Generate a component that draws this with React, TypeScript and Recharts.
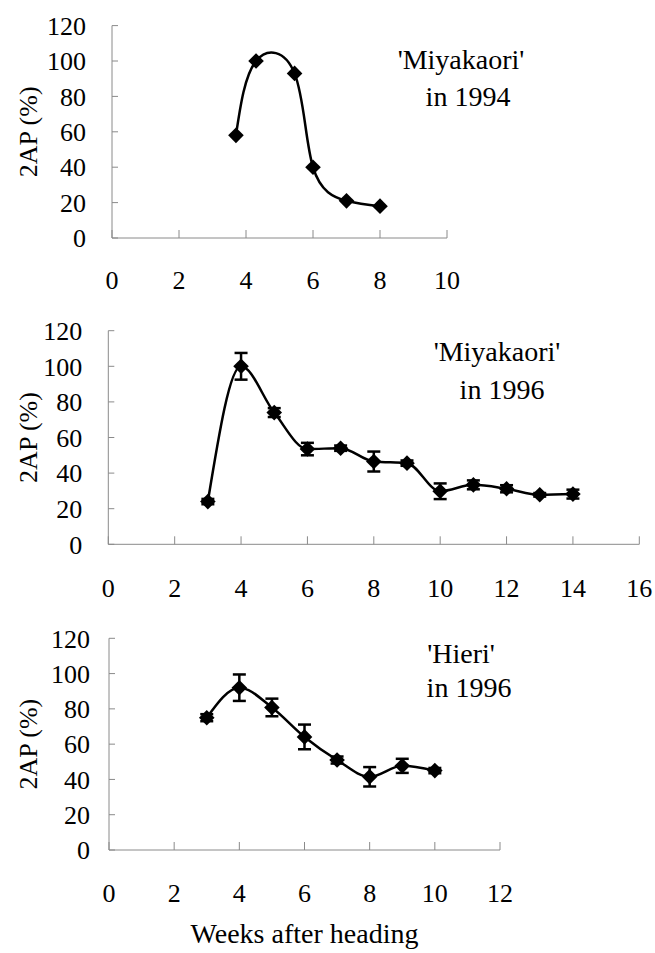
import { LineChart, Line, XAxis, YAxis, ErrorBar } from "recharts";

// 'Miyakaori' 1994
const weeks94 = [3.7, 4.3, 5.45, 6, 7, 8];
const ap94 = [58, 100, 93, 40, 21, 18];

// 'Miyakaori' 1996
const weeksMiya96 = [3, 4, 5, 6, 7, 8, 9, 10, 11, 12, 13, 14];
const apMiya96 = [24, 100, 74, 53.5, 54, 46.5, 45.6, 29.8, 33.4, 31.2, 27.8, 28.2];
const errMiya96 = [1.5, 7.5, 2.5, 3.5, 1.5, 5.6, 1.5, 4.4, 2.5, 2, 1, 2.5];

// 'Hieri' 1996
const weeksHieri96 = [3, 4, 5, 6, 7, 8, 9, 10];
const apHieri96 = [75, 92, 80.8, 64.1, 51, 41.5, 47.7, 45];
const errHieri96 = [2, 7.5, 5, 7, 2, 5.5, 4, 1.5];

const yTicks = [0, 20, 40, 60, 80, 100, 120];
const xTicks94 = [0, 2, 4, 6, 8, 10];
const xTicksMiya96 = [0, 2, 4, 6, 8, 10, 12, 14, 16];
const xTicksHieri96 = [0, 2, 4, 6, 8, 10, 12];

const FONT = "'Liberation Serif', 'Times New Roman', serif";
const AXIS = "#8a8a8a";

function Diamond(props: any) {
  const { cx, cy } = props;
  if (cx == null || cy == null) return null;
  const r = 7.8;
  return (
    <path
      d={`M${cx},${cy - r}L${cx + r},${cy}L${cx},${cy + r}L${cx - r},${cy}Z`}
      fill="#000"
    />
  );
}

interface PanelProps {
  top: number;
  height: number;
  margin: { top: number; right: number; bottom: number; left: number };
  yAxisWidth: number;
  xAxisHeight: number;
  weeks: number[];
  values: number[];
  errors?: number[];
  xTicks: number[];
  curve: "natural" | "monotone" | "linear";
  yTickMargin: number;
  xTickMargin: number;
  xTitle?: string;
}

function Panel(p: PanelProps) {
  const data = p.weeks.map((w, i) => ({
    week: w,
    ap: p.values[i],
    err: p.errors ? p.errors[i] : 0,
  }));
  const xMax = p.xTicks[p.xTicks.length - 1];
  return (
    <div style={{ position: "absolute", left: 0, top: p.top }}>
      <LineChart width={655} height={p.height} data={data} margin={p.margin}>
        <XAxis
          dataKey="week"
          type="number"
          domain={[0, xMax]}
          ticks={p.xTicks}
          interval={0}
          height={p.xAxisHeight}
          stroke={AXIS}
          tickSize={-8}
          tickMargin={p.xTickMargin}
          tick={{ fill: "#000", fontSize: 26, fontFamily: FONT }}
          label={
            p.xTitle
              ? {
                  value: p.xTitle,
                  position: "insideBottom",
                  offset: 7,
                  fill: "#000",
                  fontSize: 28,
                  fontFamily: FONT,
                }
              : undefined
          }
        />
        <YAxis
          type="number"
          domain={[0, 120]}
          ticks={yTicks}
          interval={0}
          width={p.yAxisWidth}
          stroke={AXIS}
          tickSize={-6}
          tickMargin={p.yTickMargin}
          tick={{ fill: "#000", fontSize: 26, fontFamily: FONT }}
          label={{
            value: "2AP (%)",
            angle: -90,
            position: "insideLeft",
            offset: 28,
            fill: "#000",
            fontSize: 26,
            fontFamily: FONT,
            style: { textAnchor: "middle" },
          }}
        />
        <Line
          type={p.curve}
          dataKey="ap"
          stroke="#000"
          strokeWidth={2.5}
          dot={<Diamond />}
          activeDot={false}
          isAnimationActive={false}
        >
          {p.errors && (
            <ErrorBar
              dataKey="err"
              direction="y"
              width={6.5}
              stroke="#000"
              strokeWidth={2.5}
              isAnimationActive={false}
            />
          )}
        </Line>
      </LineChart>
    </div>
  );
}

function Note({ x, y, text }: { x: number; y: number; text: string }) {
  // x, y: visual centre of the line of text
  return (
    <div
      style={{
        position: "absolute",
        left: x - 120,
        top: y - 18.6,
        width: 240,
        textAlign: "center",
        fontFamily: FONT,
        fontSize: 28,
        lineHeight: "37px",
        color: "#000",
        whiteSpace: "nowrap",
      }}
    >
      {text}
    </div>
  );
}

export default function App() {
  return (
    <div
      style={{
        position: "absolute",
        left: 0,
        top: 0,
        width: 655,
        height: 953,
        background: "#fff",
        overflow: "hidden",
      }}
    >
      <Panel
        top={0}
        height={300}
        margin={{ top: 25.6, right: 208, bottom: 12, left: 0 }}
        yAxisWidth={112}
        xAxisHeight={50}
        weeks={weeks94}
        values={ap94}
        xTicks={xTicks94}
        curve="natural"
        yTickMargin={32}
        xTickMargin={41}
      />
      <Panel
        top={310}
        height={300}
        margin={{ top: 20.7, right: 15.7, bottom: 15.7, left: 0 }}
        yAxisWidth={108.3}
        xAxisHeight={50}
        weeks={weeksMiya96}
        values={apMiya96}
        errors={errMiya96}
        xTicks={xTicksMiya96}
        curve="monotone"
        yTickMargin={32}
        xTickMargin={42.5}
      />
      <Panel
        top={620}
        height={333}
        margin={{ top: 18.3, right: 155, bottom: 3, left: 0 }}
        yAxisWidth={109}
        xAxisHeight={100}
        weeks={weeksHieri96}
        values={apHieri96}
        errors={errHieri96}
        xTicks={xTicksHieri96}
        curve="monotone"
        yTickMargin={25}
        xTickMargin={42}
        xTitle="Weeks after heading"
      />
      <Note x={461} y={60} text="'Miyakaori'" />
      <Note x={468} y={97} text="in 1994" />
      <Note x={497} y={352} text="'Miyakaori'" />
      <Note x={502} y={390} text="in 1996" />
      <Note x={461} y={654} text="'Hieri'" />
      <Note x={469} y={688} text="in 1996" />
    </div>
  );
}
